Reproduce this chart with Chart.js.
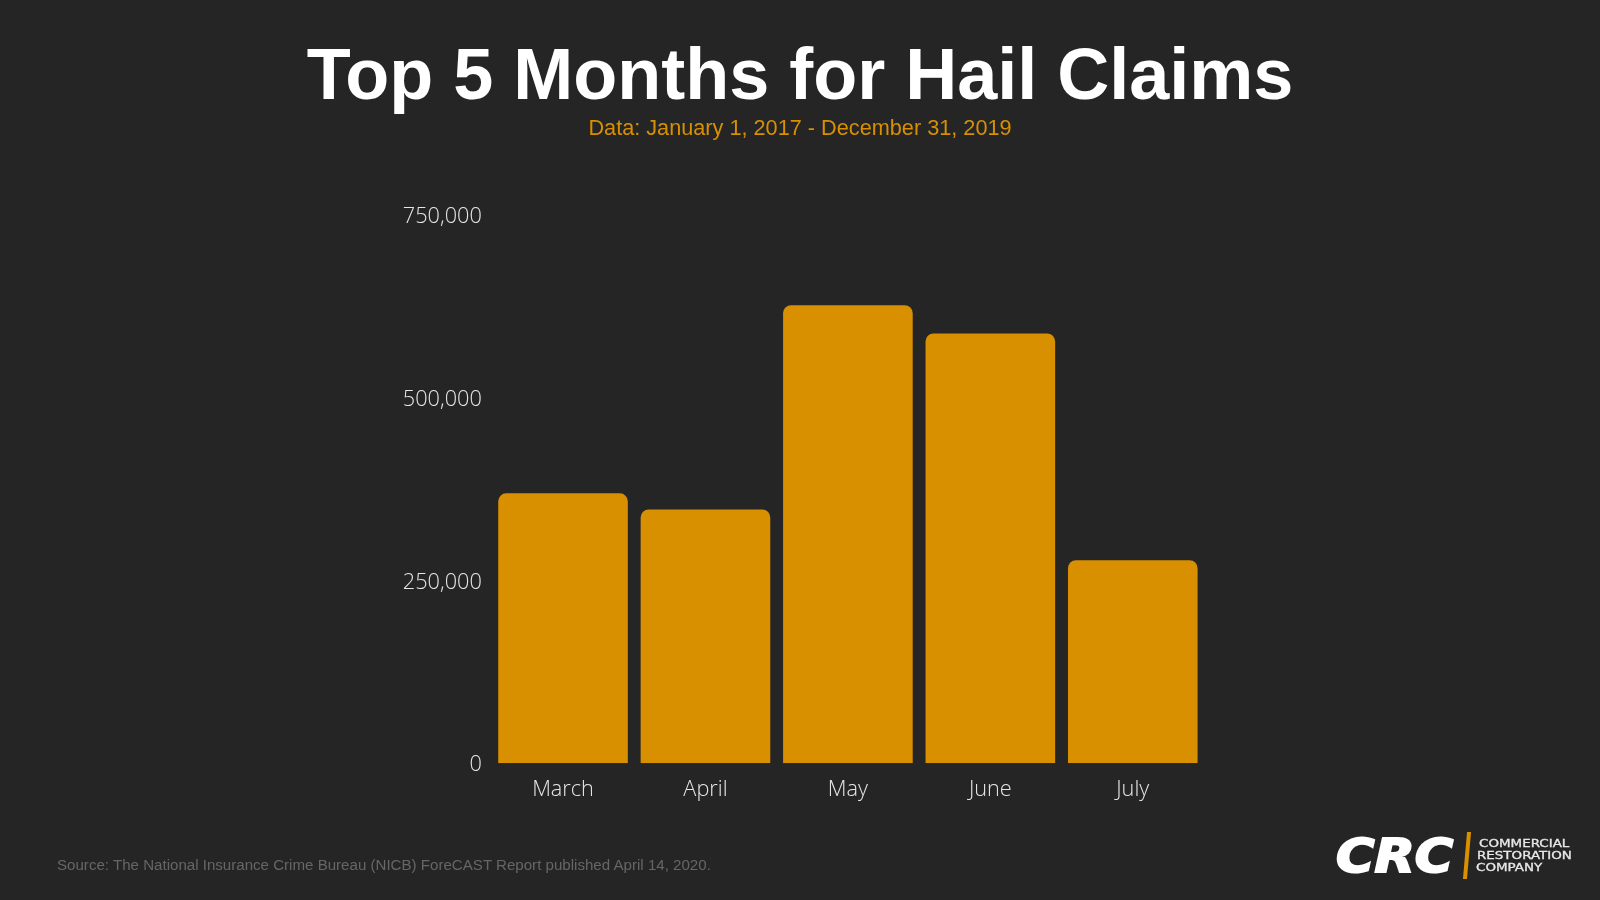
<!DOCTYPE html>
<html><head><meta charset="utf-8">
<script src="https://cdn.jsdelivr.net/npm/chart.js@4/dist/chart.umd.min.js"></script>
<style>
html,body{margin:0;padding:0;background:#252525;width:1600px;height:900px;overflow:hidden}
#wrap{position:relative;width:1600px;height:900px}
canvas{position:absolute;left:0;top:0}
.t{position:absolute;white-space:nowrap;line-height:1}
#title,#sub{left:0;width:1600px;text-align:center}
#title{top:38px;font:bold 72px/1 "Liberation Sans",Arial,sans-serif;font-stretch:normal;color:#fff}
#sub{top:117px;font:21.7px/1 "Liberation Sans",sans-serif;color:#d89000}
#src{left:57px;top:856px;font:15.1px "Liberation Sans",sans-serif;color:#666}
#crc{left:1336px;top:833px;font:italic bold 46px/1 "DejaVu Sans",sans-serif;color:#fff;-webkit-text-stroke:2px #fff;transform-origin:0 0;transform:scale(1.14,1.0)}
#bar{left:1465px;top:832px;width:3.5px;height:47px;background:#d89000;transform:skewX(-5deg)}
.s{font:10.5px/1 "DejaVu Sans",sans-serif;color:#e8e8e8;-webkit-text-stroke:.3px #e8e8e8;transform-origin:0 0;transform:scale(1.28,1)}
</style></head><body><div id="wrap">
<canvas id="c" width="1600" height="900"></canvas>
<div class="t" id="title"></div>
<div class="t" id="sub"></div>
<div class="t" id="src">Source: The National Insurance Crime Bureau (NICB) ForeCAST Report published April 14, 2020.</div>
<div class="t" id="crc">CRC</div>
<div id="bar" class="t"></div>
<div class="t s" style="left:1479px;top:838px">COMMERCIAL</div>
<div class="t s" style="left:1477px;top:850px">RESTORATION</div>
<div class="t s" style="left:1476px;top:862px">COMPANY</div>
</div>
<script>
const titleText = "Top 5 Months for Hail Claims";
const subtitleText = "Data: January 1, 2017 - December 31, 2019";
const categories = ["March","April","May","June","July"];
const claims = [369000,347000,626000,587500,277500];
const yTicks = [0,250000,500000,750000];

document.getElementById("title").textContent = titleText;
document.getElementById("sub").textContent = subtitleText;

const nudgeYLabels = {
  id:"nudgeYLabels",
  beforeDraw(chart){
    chart.scales.y.getLabelItems().forEach(i=>{
      if(!i.options._nudged){i.options.translation=[i.options.translation[0],i.options.translation[1]+2];i.options._nudged=true;}
    });
  }
};

Chart.defaults.animation = false;
new Chart(document.getElementById("c"),{
  type:"bar",
  plugins:[nudgeYLabels],
  data:{labels:categories,datasets:[{data:claims,backgroundColor:"#d89000",
    categoryPercentage:0.91,barPercentage:1,
    borderRadius:{topLeft:8,topRight:8,bottomLeft:0,bottomRight:0},borderSkipped:false}]},
  options:{responsive:false,devicePixelRatio:1,
    layout:{padding:{left:392,right:396,top:214.5,bottom:0}},
    plugins:{legend:{display:false},tooltip:{enabled:false},title:{display:false}},
    scales:{
      x:{grid:{display:false},border:{display:false},
        ticks:{color:"#e6e6e6",padding:5.5,font:{family:"Open Sans",size:21.7,weight:"300"}},
        afterFit(s){s.height=136.7;}},
      y:{min:0,max:750000,grid:{display:false},border:{display:false},
        afterBuildTicks(s){s.ticks=yTicks.map(v=>({value:v}));},
        afterFit(s){s.width=99.8;},
        ticks:{color:"#e6e6e6",padding:2,font:{family:"Open Sans",size:21.7,weight:"300"},
          callback:v=>v.toLocaleString("en-US")}}
    }}
});
</script></body></html>
